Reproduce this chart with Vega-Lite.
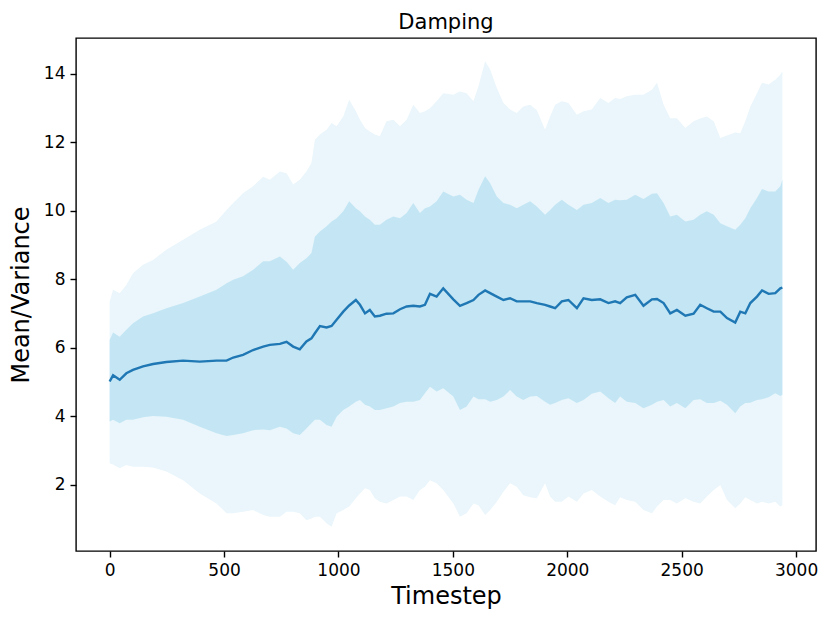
{
  "$schema": "https://vega.github.io/schema/vega-lite/v6.json",
  "width": 740,
  "height": 513,
  "autosize": {"type": "none"},
  "padding": {"left": 76, "top": 38, "right": 14, "bottom": 72},
  "background": "white",
  "title": {"text": "Damping", "fontSize": 21, "font": "DejaVu Sans", "fontWeight": "normal", "color": "black", "anchor": "middle", "frame": "group", "offset": 5},
  "config": {
    "view": {"stroke": "black", "strokeWidth": 1.4},
    "axis": {"domain": false, "grid": false, "tickColor": "black", "tickWidth": 1.4, "tickSize": 6, "labelFont": "DejaVu Sans", "labelFontSize": 17, "labelColor": "black", "titleFont": "DejaVu Sans", "titleFontSize": 24, "titleFontWeight": "normal", "titleColor": "black", "labelPadding": 5, "format": "d"}
  },
  "data": {"values": [
    {"t": 0, "mean": 5.02, "il": 3.85, "ih": 6.23, "ol": 2.63, "oh": 7.35},
    {"t": 15, "mean": 5.2, "il": 3.9, "ih": 6.45, "ol": 2.6, "oh": 7.7},
    {"t": 44, "mean": 5.07, "il": 3.8, "ih": 6.33, "ol": 2.49, "oh": 7.6},
    {"t": 73, "mean": 5.26, "il": 3.9, "ih": 6.53, "ol": 2.58, "oh": 7.84},
    {"t": 102, "mean": 5.36, "il": 3.9, "ih": 6.72, "ol": 2.53, "oh": 8.18},
    {"t": 146, "mean": 5.46, "il": 3.98, "ih": 6.92, "ol": 2.53, "oh": 8.43},
    {"t": 190, "mean": 5.53, "il": 4.01, "ih": 7.01, "ol": 2.51, "oh": 8.57},
    {"t": 248, "mean": 5.59, "il": 3.99, "ih": 7.16, "ol": 2.39, "oh": 8.87},
    {"t": 321, "mean": 5.63, "il": 3.9, "ih": 7.31, "ol": 2.14, "oh": 9.16},
    {"t": 394, "mean": 5.6, "il": 3.7, "ih": 7.5, "ol": 1.75, "oh": 9.45},
    {"t": 467, "mean": 5.63, "il": 3.51, "ih": 7.7, "ol": 1.46, "oh": 9.69},
    {"t": 511, "mean": 5.63, "il": 3.43, "ih": 7.89, "ol": 1.17, "oh": 10.03},
    {"t": 540, "mean": 5.72, "il": 3.46, "ih": 7.99, "ol": 1.17, "oh": 10.23},
    {"t": 583, "mean": 5.8, "il": 3.51, "ih": 8.09, "ol": 1.22, "oh": 10.52},
    {"t": 627, "mean": 5.94, "il": 3.6, "ih": 8.28, "ol": 1.27, "oh": 10.72},
    {"t": 671, "mean": 6.04, "il": 3.62, "ih": 8.53, "ol": 1.12, "oh": 11.0},
    {"t": 700, "mean": 6.09, "il": 3.6, "ih": 8.53, "ol": 1.07, "oh": 10.91},
    {"t": 744, "mean": 6.12, "il": 3.7, "ih": 8.67, "ol": 1.07, "oh": 11.15},
    {"t": 773, "mean": 6.18, "il": 3.65, "ih": 8.52, "ol": 1.22, "oh": 11.1},
    {"t": 802, "mean": 6.04, "il": 3.51, "ih": 8.28, "ol": 1.22, "oh": 10.77},
    {"t": 831, "mean": 5.96, "il": 3.46, "ih": 8.48, "ol": 1.17, "oh": 10.91},
    {"t": 860, "mean": 6.19, "il": 3.65, "ih": 8.62, "ol": 0.97, "oh": 11.15},
    {"t": 882, "mean": 6.28, "il": 3.8, "ih": 8.77, "ol": 1.02, "oh": 11.4},
    {"t": 897, "mean": 6.43, "il": 3.9, "ih": 9.25, "ol": 1.07, "oh": 12.08},
    {"t": 919, "mean": 6.64, "il": 3.9, "ih": 9.4, "ol": 1.07, "oh": 12.23},
    {"t": 948, "mean": 6.6, "il": 3.75, "ih": 9.55, "ol": 0.88, "oh": 12.37},
    {"t": 970, "mean": 6.64, "il": 3.7, "ih": 9.69, "ol": 0.78, "oh": 12.57},
    {"t": 992, "mean": 6.82, "il": 3.99, "ih": 9.79, "ol": 1.17, "oh": 12.47},
    {"t": 1021, "mean": 7.06, "il": 4.19, "ih": 9.99, "ol": 1.27, "oh": 12.76},
    {"t": 1047, "mean": 7.24, "il": 4.29, "ih": 10.28, "ol": 1.37, "oh": 13.25},
    {"t": 1076, "mean": 7.4, "il": 4.43, "ih": 10.08, "ol": 1.61, "oh": 12.91},
    {"t": 1094, "mean": 7.26, "il": 4.48, "ih": 9.99, "ol": 1.75, "oh": 12.66},
    {"t": 1116, "mean": 7.01, "il": 4.34, "ih": 9.84, "ol": 1.9, "oh": 12.42},
    {"t": 1137, "mean": 7.11, "il": 4.29, "ih": 9.74, "ol": 1.85, "oh": 12.32},
    {"t": 1159, "mean": 6.92, "il": 4.19, "ih": 9.6, "ol": 1.61, "oh": 12.23},
    {"t": 1181, "mean": 6.94, "il": 4.19, "ih": 9.6, "ol": 1.51, "oh": 12.18},
    {"t": 1210, "mean": 7.0, "il": 4.24, "ih": 9.74, "ol": 1.46, "oh": 12.62},
    {"t": 1240, "mean": 7.01, "il": 4.29, "ih": 9.84, "ol": 1.56, "oh": 12.66},
    {"t": 1269, "mean": 7.13, "il": 4.39, "ih": 9.79, "ol": 1.66, "oh": 12.47},
    {"t": 1298, "mean": 7.21, "il": 4.43, "ih": 9.94, "ol": 1.66, "oh": 12.66},
    {"t": 1327, "mean": 7.23, "il": 4.43, "ih": 10.23, "ol": 1.56, "oh": 13.1},
    {"t": 1356, "mean": 7.21, "il": 4.48, "ih": 9.94, "ol": 1.85, "oh": 12.86},
    {"t": 1378, "mean": 7.26, "il": 4.68, "ih": 10.08, "ol": 1.95, "oh": 12.91},
    {"t": 1400, "mean": 7.58, "il": 4.87, "ih": 10.13, "ol": 2.14, "oh": 13.0},
    {"t": 1429, "mean": 7.5, "il": 4.73, "ih": 10.28, "ol": 2.05, "oh": 13.2},
    {"t": 1458, "mean": 7.74, "il": 4.82, "ih": 10.57, "ol": 1.85, "oh": 13.44},
    {"t": 1502, "mean": 7.42, "il": 4.58, "ih": 10.42, "ol": 1.46, "oh": 13.39},
    {"t": 1531, "mean": 7.23, "il": 4.19, "ih": 10.47, "ol": 1.07, "oh": 13.49},
    {"t": 1560, "mean": 7.31, "il": 4.29, "ih": 10.33, "ol": 1.17, "oh": 13.44},
    {"t": 1590, "mean": 7.4, "il": 4.58, "ih": 10.23, "ol": 1.46, "oh": 13.2},
    {"t": 1612, "mean": 7.55, "il": 4.5, "ih": 10.62, "ol": 1.41, "oh": 13.64},
    {"t": 1641, "mean": 7.68, "il": 4.5, "ih": 11.01, "ol": 1.12, "oh": 14.37},
    {"t": 1663, "mean": 7.6, "il": 4.43, "ih": 10.81, "ol": 1.27, "oh": 14.13},
    {"t": 1692, "mean": 7.5, "il": 4.48, "ih": 10.42, "ol": 1.51, "oh": 13.59},
    {"t": 1721, "mean": 7.4, "il": 4.58, "ih": 10.23, "ol": 1.8, "oh": 13.15},
    {"t": 1750, "mean": 7.45, "il": 4.77, "ih": 10.18, "ol": 2.05, "oh": 12.96},
    {"t": 1779, "mean": 7.36, "il": 4.58, "ih": 10.08, "ol": 1.95, "oh": 12.86},
    {"t": 1808, "mean": 7.36, "il": 4.48, "ih": 10.18, "ol": 1.7, "oh": 13.05},
    {"t": 1838, "mean": 7.36, "il": 4.58, "ih": 10.28, "ol": 1.64, "oh": 13.1},
    {"t": 1867, "mean": 7.31, "il": 4.6, "ih": 10.13, "ol": 1.61, "oh": 12.94},
    {"t": 1903, "mean": 7.26, "il": 4.43, "ih": 9.89, "ol": 2.05, "oh": 12.37},
    {"t": 1925, "mean": 7.21, "il": 4.34, "ih": 10.03, "ol": 1.66, "oh": 12.76},
    {"t": 1947, "mean": 7.16, "il": 4.39, "ih": 10.18, "ol": 1.51, "oh": 13.1},
    {"t": 1976, "mean": 7.36, "il": 4.48, "ih": 10.33, "ol": 1.51, "oh": 13.2},
    {"t": 2005, "mean": 7.4, "il": 4.53, "ih": 10.18, "ol": 1.66, "oh": 13.15},
    {"t": 2042, "mean": 7.16, "il": 4.39, "ih": 10.03, "ol": 1.51, "oh": 12.81},
    {"t": 2071, "mean": 7.45, "il": 4.48, "ih": 10.18, "ol": 1.75, "oh": 12.91},
    {"t": 2107, "mean": 7.4, "il": 4.66, "ih": 10.23, "ol": 1.85, "oh": 12.96},
    {"t": 2144, "mean": 7.42, "il": 4.73, "ih": 10.38, "ol": 1.66, "oh": 13.3},
    {"t": 2180, "mean": 7.31, "il": 4.53, "ih": 10.23, "ol": 1.51, "oh": 13.15},
    {"t": 2209, "mean": 7.36, "il": 4.39, "ih": 10.33, "ol": 1.41, "oh": 13.3},
    {"t": 2231, "mean": 7.31, "il": 4.58, "ih": 10.31, "ol": 1.64, "oh": 13.27},
    {"t": 2260, "mean": 7.48, "il": 4.43, "ih": 10.33, "ol": 1.56, "oh": 13.35},
    {"t": 2297, "mean": 7.55, "il": 4.39, "ih": 10.47, "ol": 1.51, "oh": 13.39},
    {"t": 2333, "mean": 7.23, "il": 4.24, "ih": 10.35, "ol": 1.27, "oh": 13.39},
    {"t": 2370, "mean": 7.42, "il": 4.34, "ih": 10.5, "ol": 1.17, "oh": 13.54},
    {"t": 2392, "mean": 7.43, "il": 4.43, "ih": 10.52, "ol": 1.37, "oh": 13.74},
    {"t": 2421, "mean": 7.31, "il": 4.48, "ih": 10.23, "ol": 1.56, "oh": 13.1},
    {"t": 2450, "mean": 7.01, "il": 4.29, "ih": 9.84, "ol": 1.56, "oh": 12.71},
    {"t": 2479, "mean": 7.11, "il": 4.39, "ih": 9.89, "ol": 1.46, "oh": 12.71},
    {"t": 2516, "mean": 6.94, "il": 4.24, "ih": 9.69, "ol": 1.61, "oh": 12.42},
    {"t": 2552, "mean": 7.0, "il": 4.48, "ih": 9.74, "ol": 1.51, "oh": 12.62},
    {"t": 2581, "mean": 7.26, "il": 4.5, "ih": 9.89, "ol": 1.46, "oh": 12.7},
    {"t": 2610, "mean": 7.16, "il": 4.39, "ih": 9.99, "ol": 1.66, "oh": 12.76},
    {"t": 2640, "mean": 7.06, "il": 4.39, "ih": 9.89, "ol": 1.85, "oh": 12.62},
    {"t": 2669, "mean": 7.06, "il": 4.46, "ih": 9.64, "ol": 2.0, "oh": 12.13},
    {"t": 2698, "mean": 6.87, "il": 4.34, "ih": 9.55, "ol": 1.56, "oh": 12.2},
    {"t": 2734, "mean": 6.74, "il": 4.09, "ih": 9.45, "ol": 1.32, "oh": 12.29},
    {"t": 2756, "mean": 7.06, "il": 4.29, "ih": 9.6, "ol": 1.46, "oh": 12.27},
    {"t": 2778, "mean": 7.01, "il": 4.39, "ih": 9.79, "ol": 1.64, "oh": 12.62},
    {"t": 2800, "mean": 7.31, "il": 4.4, "ih": 10.08, "ol": 1.56, "oh": 13.05},
    {"t": 2829, "mean": 7.5, "il": 4.48, "ih": 10.38, "ol": 1.46, "oh": 13.44},
    {"t": 2851, "mean": 7.68, "il": 4.5, "ih": 10.64, "ol": 1.51, "oh": 13.74},
    {"t": 2880, "mean": 7.58, "il": 4.56, "ih": 10.57, "ol": 1.46, "oh": 13.69},
    {"t": 2909, "mean": 7.6, "il": 4.68, "ih": 10.57, "ol": 1.51, "oh": 13.83},
    {"t": 2931, "mean": 7.74, "il": 4.6, "ih": 10.72, "ol": 1.37, "oh": 13.98},
    {"t": 2940, "mean": 7.76, "il": 4.63, "ih": 10.91, "ol": 1.41, "oh": 14.08}
  ]},
  "encoding": {
    "x": {"field": "t", "type": "quantitative", "title": "Timestep",
      "scale": {"domain": [-147, 3087], "nice": false, "zero": false},
      "axis": {"values": [0, 500, 1000, 1500, 2000, 2500, 3000], "titlePadding": 6}}
  },
  "layer": [
    {"mark": {"type": "area", "color": "#EAF6FB", "opacity": 1, "clip": true},
     "encoding": {
       "y": {"field": "ol", "type": "quantitative", "title": "Mean/Variance",
         "scale": {"domain": [0.071, 15.05], "nice": false, "zero": false},
         "axis": {"values": [2, 4, 6, 8, 10, 12, 14], "titlePadding": 10}},
       "y2": {"field": "oh"}}},
    {"mark": {"type": "area", "color": "#C4E6F4", "opacity": 1, "clip": true},
     "encoding": {"y": {"field": "il", "type": "quantitative"}, "y2": {"field": "ih"}}},
    {"mark": {"type": "line", "color": "#1F77B4", "strokeWidth": 2.4, "clip": true},
     "encoding": {"y": {"field": "mean", "type": "quantitative"}}}
  ]
}
